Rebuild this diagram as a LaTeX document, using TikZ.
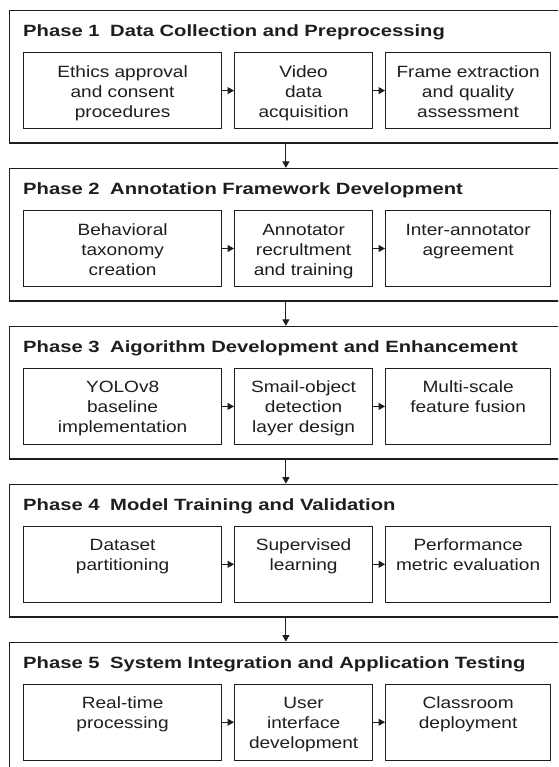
\documentclass[tikz,border=0pt]{standalone}
\usepackage{fontspec}
\setmainfont{Liberation Sans}[FakeStretch=1.17]
\newfontfamily\titlefont{Liberation Sans}[FakeStretch=1.24]
\usetikzlibrary{arrows.meta}
\definecolor{ink}{HTML}{1E1E1E}
\newcommand\boxtext[2]{\parbox[c][76pt][t]{#1}{\centering\rule{0pt}{24.5pt}#2}}
\newcommand\phaserow[6]{%
  \node[phasebox, anchor=north west] (p#1) at (8.5,#2) {};
  \node[titletext, anchor=base west] (t#1) at (23,#2+27) {#3};
  \node[ibox, anchor=north west] (a#1) at (23,#2+42) {\boxtext{198pt}{#4}};
  \node[ibox, anchor=north west] (b#1) at (234,#2+42) {\boxtext{138pt}{#5}};
  \node[ibox, anchor=north west] (c#1) at (385,#2+42) {\boxtext{165pt}{#6}};
  \draw[arr] (a#1) -- (b#1);
  \draw[arr] (b#1) -- (c#1);
}
\begin{document}
\begin{tikzpicture}[x=1pt,y=-1pt,
  phasebox/.style={draw=ink, line width=1.3pt, minimum width=553.5pt, minimum height=132.5pt, inner sep=0pt},
  titletext/.style={inner sep=0pt, text=ink, font=\titlefont\bfseries\fontsize{16.3}{20}\selectfont},
  ibox/.style={draw=ink, line width=1.2pt, inner sep=0pt, text=ink, font=\fontsize{16.3}{20}\selectfont},
  arr/.style={draw=ink, line width=1.1pt, -{Triangle[length=6.5pt,width=7pt]}}]
\clip (0,0) rectangle (558,767);
\fill[white] (0,0) rectangle (558,767);
\phaserow{1}{10}{Phase 1\hspace{5pt} Data Collection and Preprocessing}{Ethics approval\\and consent\\procedures}{Video\\data\\acquisition}{Frame extraction\\and quality\\assessment}
\phaserow{2}{167.9}{Phase 2\hspace{5pt} Annotation Framework Development}{Behavioral\\taxonomy\\creation}{Annotator\\recrultment\\and training}{Inter-annotator\\agreement}
\phaserow{3}{325.8}{Phase 3\hspace{5pt} Aigorithm Development and Enhancement}{YOLOv8\\baseline\\implementation}{Smail-object\\detection\\layer design}{Multi-scale\\feature fusion}
\phaserow{4}{483.7}{Phase 4\hspace{5pt} Model Training and Validation}{Dataset\\partitioning}{Supervised\\learning}{Performance\\metric evaluation}
\phaserow{5}{641.6}{Phase 5\hspace{5pt} System Integration and Application Testing}{Real-time\\processing}{User\\interface\\development}{Classroom\\deployment}
\draw[arr] (p1.south) -- (p2.north);
\draw[arr] (p2.south) -- (p3.north);
\draw[arr] (p3.south) -- (p4.north);
\draw[arr] (p4.south) -- (p5.north);
\end{tikzpicture}
\end{document}
